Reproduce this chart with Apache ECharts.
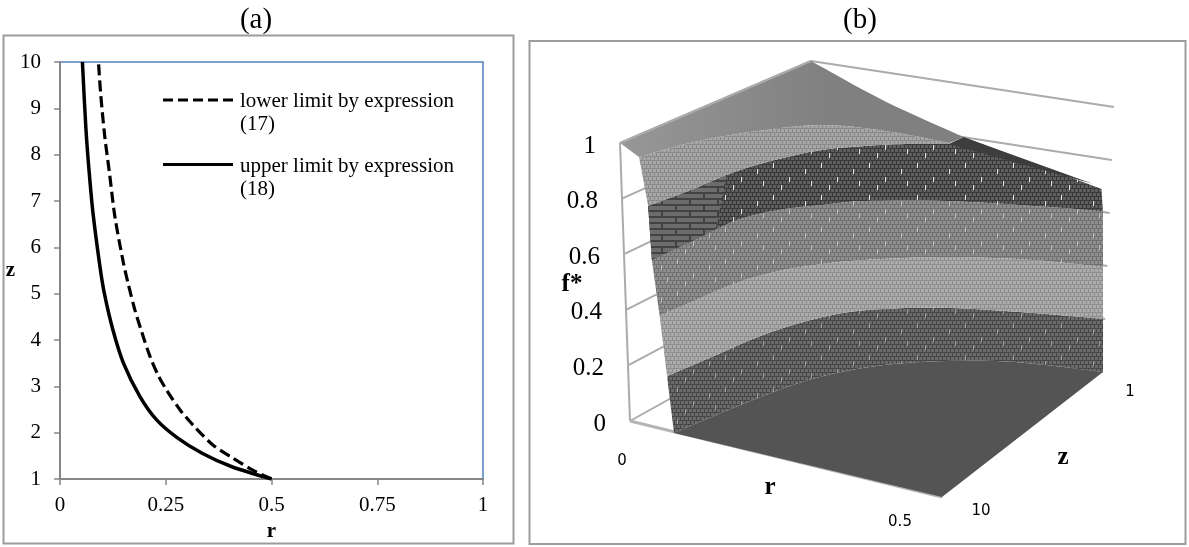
<!DOCTYPE html><html><head><meta charset="utf-8"><style>html,body{margin:0;background:#fff}#c{width:1189px;height:547px}</style>
<script src="https://cdn.jsdelivr.net/npm/echarts@6/dist/echarts.min.js"></script></head><body><div id="c"></div><script>
// ----- panel (a)
const lowerLimitZ=[1,1.19,1.45,1.73,2.16,2.49,2.92,3.24,3.64,4.18,4.65,5.22,5.66,6.65,7.6,8.38,9.33,10];
const lowerLimitR=[.5,.456,.409,.362,.315,.284,.252,.232,.213,.193,.177,.161,.15,.13,.117,.106,.096,.091];
const upperLimitZ=[1,1.27,1.55,1.9,2.27,2.78,3.5,4.22,5,5.55,6.74,7.73,8.6,10];
const upperLimitR=[.5,.405,.337,.276,.229,.189,.15,.125,.105,.095,.078,.068,.061,.053];
const legendNames=['lower limit by expression','upper limit by expression'];
const legendRefs=['(17)','(18)'];
// ----- panel (b): contour levels of f*, as (r, z) pairs
const levelF=[0,.2,.4,.6,.8,.95];
const levelR=[[.073,.094,.127,.185,.266,.361,.5],
 [.065,.078,.089,.11,.142,.187,.268,.39,.497],
 [.05,.056,.066,.089,.126,.169,.271,.388,.496],
 [.043,.045,.048,.073,.113,.156,.263,.383,.487],
 [.045,.055,.061,.08,.109,.151,.198,.252],
 [.02,.043,.087,.147,.236,.341]];
const levelZ=[[10.08,7.44,4.83,3.07,1.96,1.28,1],
 [10.1,8.01,6.23,4.74,3.53,2.75,1.95,1.36,1.02],
 [9.91,8.39,6.55,5.16,4.12,3.32,2.11,1.39,1.11],
 [9.99,7.97,5.95,4.66,3.75,2.94,1.94,1.34,.94],
 [10.15,8.25,6.33,4.88,3.66,2.83,2.18,1.67],
 [9.74,7.82,6.11,4.81,4.45,4.53]];
const edgeR=[0,.123,.255,.485];      // z = 1 edge of the surface
const edgeF=[1,.89,.8,.685];
const fTicks=[0,.2,.4,.6,.8,1];

const F='"Liberation Serif","Times New Roman",serif', SANS='"DejaVu Sans",sans-serif';
// view of the 3-D box: where its corners fall on the page
const box={g:[806,323],c:[811,61],e:[1103,372],d:[1114,107],b:[630,421],a:[620,143],f:[942,497],h:[948,207]};
const L=(a,b,t)=>[a[0]+(b[0]-a[0])*t,a[1]+(b[1]-a[1])*t];
function P(r,z,f){const u=r/.5,v=(z-1)/9;return L(L(L(box.g,box.c,f),L(box.e,box.d,f),u),L(L(box.b,box.a,f),L(box.f,box.h,f),u),v);}
function spline(p){const o=[];for(let i=0;i<p.length-1;i++){const a=p[Math.max(i-1,0)],b=p[i],c=p[i+1],d=p[Math.min(i+2,p.length-1)];
 for(let k=0;k<8;k++){const t=k/8,t2=t*t,t3=t2*t;o.push([0,1].map(j=>.5*(2*b[j]+(c[j]-a[j])*t+(2*a[j]-5*b[j]+4*c[j]-d[j])*t2+(3*b[j]-a[j]-3*c[j]+d[j])*t3)));}}
 o.push(p[p.length-1]);return o;}
const curve=i=>spline(levelR[i].map((r,k)=>P(r,levelZ[i][k],levelF[i])));
function weave(base,gap,spark){const c=document.createElement('canvas');c.width=48;c.height=32;const x=c.getContext('2d');
 x.fillStyle=base;x.fillRect(0,0,48,32);x.fillStyle=gap;
 for(let j=0;j<8;j++){x.fillRect(0,j*4,48,1);for(let i=0;i<12;i++)x.fillRect(i*4+(j%2?2:0),j*4,1,4);}
 if(spark){x.fillStyle=spark;[[5,3],[21,17],[37,9],[13,25],[43,21]].forEach(s=>x.fillRect(s[0],s[1],1,5));}
 return {image:c,repeat:'repeat'};}
function bricks(base,gap){const c=document.createElement('canvas');c.width=28;c.height=12;const x=c.getContext('2d');
 x.fillStyle=base;x.fillRect(0,0,28,12);x.fillStyle=gap;x.fillRect(0,0,28,2);x.fillRect(0,6,28,2);x.fillRect(3,0,2,6);x.fillRect(17,6,2,6);
 return {image:c,repeat:'repeat'};}
const tex={b0:weave('#6a6a6a','#474747','#a0a0a0'),b1:weave('#ababab','#8f8f8f'),b2:weave('#8e8e8e','#707070','#bdbdbd'),
 b3:weave('#5e5e5e','#383838','#e6e6e6'),b3left:bricks('#6c6c6c','#424242'),b4:weave('#a6a6a6','#8a8a8a')};
function poly(points,fill){return {type:'polygon',shape:{points},style:{fill,stroke:null}};}
function line(a,b,w,col){return {type:'line',shape:{x1:a[0],y1:a[1],x2:b[0],y2:b[1]},style:{stroke:col||'#ababab',lineWidth:w||2}};}
function txt(x,y,text,font,align){return {type:'text',style:{x,y,text,font,fill:'#000',align:align||'center',verticalAlign:'middle'}};}
function drawSurface(){
 const ch=[];
 fTicks.forEach(f=>{ch.push(line(P(0,10,f),P(0,1,f)),line(P(0,1,f),P(.5,1,f)));});
 ch.push(line(P(0,10,0),P(0,10,1)),line(P(0,10,0),P(.5,10,0),3,'#b5b5b5'));
 const c=[0,1,2,3,4,5].map(curve), edgeRaw=edgeR.map((r,i)=>P(r,1,edgeF[i]));
 const edgeTop=spline(edgeRaw.slice(0,3));
 const rev=a=>a.slice().reverse();
 ch.push(poly(c[0].concat([P(.5,10,0)]),'#545454'));
 ch.push(poly(c[0].concat(rev(c[1])),tex.b0));
 ch.push(poly(c[1].concat(rev(c[2])),tex.b1));
 ch.push(poly(c[2].concat(rev(c[3])),tex.b2));
 ch.push(poly(c[3].concat([edgeRaw[3],edgeRaw[2]],rev(c[4])),tex.b3));
 ch.push(poly(c[3].slice(0,13).concat(rev(c[4].slice(0,15))),tex.b3left));
 ch.push(poly(c[4].concat(rev(c[5])),tex.b4));
 ch.push(poly([P(0,10,1)].concat(edgeTop,rev(c[5])),{type:'linear',x:620,y:0,x2:830,y2:0,global:true,colorStops:[{offset:0,color:'#979797'},{offset:1,color:'#808080'}]}));
 ch.push(poly([c[4][c[4].length-1],edgeRaw[2],P(.47,1,.7)],'#3d3d3d'));
 ch.push(line(P(0,10,1),P(0,1,1)));
 fTicks.forEach(f=>{const p=P(0,10,f);ch.push(txt(p[0]-24,p[1]+3,String(f),'25px '+F,'right'));});
 let p=P(0,10,0);ch.push(txt(p[0]-8,p[1]+40,'0','15px '+SANS));
 p=P(.5,10,0);ch.push(txt(p[0]-42,p[1]+25,'0.5','15px '+SANS),txt(p[0]+39,p[1]+14,'10','15px '+SANS));
 p=P(.5,1,0);ch.push(txt(p[0]+27,p[1]+20,'1','15px '+SANS));
 ch.push(txt(770,488,'r','bold 25px '+F),txt(1063,458,'z','bold 25px '+F),txt(572,285,'f*','bold 25px '+F));
 return {type:'group',children:ch};
}
const legendItems=[];
legendNames.forEach((n,i)=>{const y=i?164.5:100;
 legendItems.push({type:'line',shape:{x1:163,y1:y,x2:233,y2:y},style:{stroke:'#000',lineWidth:3.2,lineDash:i?null:[10,5]}},
 {type:'text',style:{x:240,y:y+1.5,text:n,font:'21px '+F,fill:'#000',verticalAlign:'middle'}},
 {type:'text',style:{x:240,y:y+24.5,text:legendRefs[i],font:'21px '+F,fill:'#000',verticalAlign:'middle'}});});
const frame=(x,y,w,h)=>({type:'rect',shape:{x,y,width:w,height:h},style:{fill:null,stroke:'#9c9c9c',lineWidth:2},z:0});
const chart=echarts.init(document.getElementById('c'),null,{renderer:'canvas'});
const lab={fontFamily:F,fontSize:21,color:'#000'}, axl={lineStyle:{color:'#868686',width:2}};
const titleStyle={fontFamily:F,fontSize:29,fontWeight:'normal',color:'#000'};
chart.setOption({animation:false,backgroundColor:'#fff',
 title:[{text:'(a)',left:251,top:1,textAlign:'center',textStyle:titleStyle},
  {text:'(b)',left:855,top:1,textAlign:'center',textStyle:titleStyle}],
 grid:{left:60,top:62,width:423,height:417,show:true,borderColor:'#4f81bd',borderWidth:1.5,backgroundColor:'transparent',outerBoundsMode:'none',containLabel:false},
 xAxis:{type:'value',min:0,max:1,interval:.25,splitLine:{show:false},axisLine:axl,axisTick:{lineStyle:{color:'#868686',width:1.5},length:6},
  axisLabel:Object.assign({margin:16,formatter:v=>String(v)},lab),name:'r',nameLocation:'middle',nameGap:42,nameTextStyle:{fontFamily:F,fontSize:21,fontWeight:'bold',color:'#000'}},
 yAxis:{type:'value',min:1,max:10,interval:1,splitLine:{show:false},axisLine:axl,axisTick:{lineStyle:{color:'#868686',width:1.5},length:6},
  axisLabel:Object.assign({margin:19},lab),name:'z',nameLocation:'middle',nameRotate:0,nameGap:40,nameTextStyle:{fontFamily:F,fontSize:21,fontWeight:'bold',color:'#000'}},
 graphic:[frame(3.5,35.5,510,508),frame(529.5,41,656,503)].concat(legendItems),
 series:[
  {name:legendNames[0],type:'line',smooth:.3,showSymbol:false,data:lowerLimitZ.map((z,i)=>[lowerLimitR[i],z]),lineStyle:{color:'#000',width:3.2,type:[11,5]},z:3},
  {name:legendNames[1],type:'line',smooth:.3,showSymbol:false,data:upperLimitZ.map((z,i)=>[upperLimitR[i],z]),lineStyle:{color:'#000',width:3.5},z:3},
  {type:'custom',coordinateSystem:'none',silent:true,data:[0],renderItem:drawSurface,z:2}
 ]});
</script></body></html>
